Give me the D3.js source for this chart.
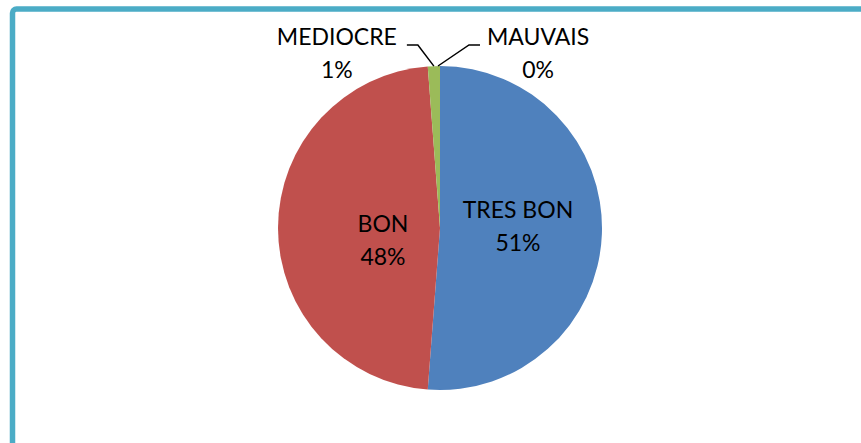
<!DOCTYPE html>
<html>
<head>
<meta charset="utf-8">
<script src="https://cdn.jsdelivr.net/npm/d3@7"></script>
<style>
  body { margin: 0; background: #fff; }
  text { font-family: Lato, "Liberation Sans", sans-serif; font-size: 23px; fill: #000; }
</style>
</head>
<body>
<svg id="chart" width="861" height="443"></svg>
<script>
// chart data
var categories = ["TRES BON", "BON", "MEDIOCRE", "MAUVAIS"];
var counts = [85, 79, 2, 0];
var pctLabels = ["51%", "48%", "1%", "0%"];
var colors = ["#4F81BD", "#C0504D", "#9BBB59", "#8064A2"];

var width = 861, height = 443;
var cx = 440, cy = 228, radius = 162;
var lineGap = 33;

var svg = d3.select("#chart");

// frame (only top and left edges are visible in the crop)
svg.append("rect")
    .attr("x", 12.5).attr("y", 9)
    .attr("width", 900).attr("height", 500)
    .attr("rx", 4)
    .attr("fill", "none")
    .attr("stroke", "#4BACC6")
    .attr("stroke-width", 5.5);

var data = categories.map((c, i) => ({ name: c, value: counts[i], pct: pctLabels[i], color: colors[i] }));

var pie = d3.pie().value(d => d.value).sort(null);
var arc = d3.arc().innerRadius(0).outerRadius(radius);
var arcs = pie(data);
var total = d3.sum(counts);

var g = svg.append("g").attr("transform", "translate(" + cx + "," + cy + ")");

g.selectAll("path.slice")
    .data(arcs).enter()
    .append("path")
    .attr("class", "slice")
    .attr("d", arc)
    .attr("fill", d => d.data.color);

// inside labels for the two big slices
var inner = arcs.filter(d => d.data.value / total > 0.1);
var innerOffset = { "TRES BON": [-3, -10], "BON": [24, 7] };

var inLabels = g.selectAll("g.in-label")
    .data(inner).enter()
    .append("g")
    .attr("class", "in-label")
    .attr("transform", d => {
        var c = arc.centroid(d), o = innerOffset[d.data.name];
        return "translate(" + (c[0] + o[0]) + "," + (c[1] + o[1]) + ")";
    });
inLabels.append("text").attr("text-anchor", "middle").attr("y", -3).text(d => d.data.name);
inLabels.append("text").attr("text-anchor", "middle").attr("y", lineGap - 3).text(d => d.data.pct);

// outside labels with leader lines for the tiny slices
var outer = arcs.filter(d => d.data.value / total <= 0.1);
var elbowY = -(cy - 45);   // leader elbow height relative to centre

outer.forEach(d => {
    var mid = (d.startAngle + d.endAngle) / 2;
    if (mid > 2 * Math.PI - 0.005) mid -= 2 * Math.PI;   // zero slice sits at 12 o'clock
    var left = mid > Math.PI;
    var dir = left ? -1 : 1;
    var px = Math.sin(mid) * radius - (left ? 0 : 2), py = -Math.cos(mid) * radius;
    var ex = px + (left ? -16 : 31), ey = elbowY;
    var hx = ex + dir * 11;
    g.append("polyline")
        .attr("points", [[px, py], [ex, ey], [hx, ey]].map(p => p.join(",")).join(" "))
        .attr("fill", "none")
        .attr("stroke", "#000")
        .attr("stroke-width", 1.5);
    var name = g.append("text").attr("y", ey).text(d.data.name);
    var w = name.node().getComputedTextLength();
    var tx = left ? hx - 10 - w / 2 : hx + 7 + w / 2;
    name.attr("text-anchor", "middle").attr("x", tx);
    g.append("text").attr("text-anchor", "middle").attr("x", tx).attr("y", ey + lineGap).text(d.data.pct);
});
</script>
</body>
</html>
